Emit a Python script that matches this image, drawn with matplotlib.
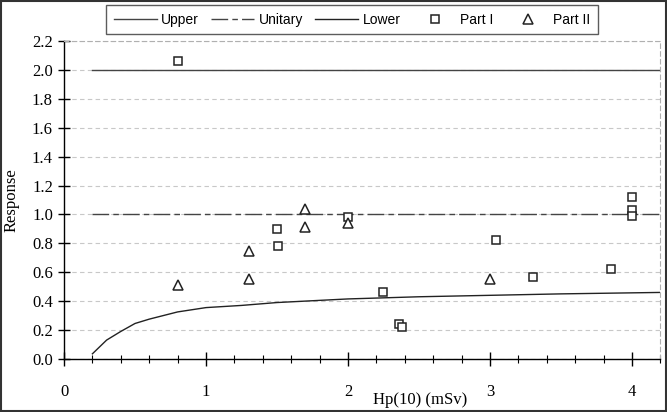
import numpy as np
import matplotlib.pyplot as plt
from matplotlib.ticker import MultipleLocator

# reference lines
limit_x = [0.2, 4.2]
upper_y = [2.0, 2.0]
unitary_y = [1.0, 1.0]

# lower limit curve
lower_x = [0.2, 0.3, 0.4, 0.5, 0.6, 0.8, 1.0, 1.25, 1.5, 2.0, 2.5, 3.0, 3.5, 4.2]
lower_y = [0.035, 0.13, 0.19, 0.245, 0.275, 0.325, 0.355, 0.37, 0.39, 0.415, 0.43, 0.44, 0.45, 0.46]

# Part I (squares)
p1_x = [0.8, 1.5, 1.51, 2.0, 2.25, 2.36, 2.38, 3.04, 3.30, 3.85, 4.0, 4.0, 4.0]
p1_y = [2.06, 0.90, 0.78, 0.98, 0.46, 0.24, 0.22, 0.82, 0.57, 0.62, 1.12, 1.03, 0.99]

# Part II (triangles)
p2_x = [0.8, 1.3, 1.3, 1.7, 1.7, 2.0, 3.0]
p2_y = [0.51, 0.75, 0.55, 1.04, 0.91, 0.94, 0.55]

serif = 'Liberation Serif'
sans = 'Liberation Sans'

fig = plt.figure(figsize=(6.67, 4.12), dpi=100)
ax = fig.add_axes([0.096, 0.129, 0.894, 0.771])

lc = '#444444'
ax.plot(limit_x, upper_y, '-', color=lc, lw=1.0, label='Upper')
ax.plot(limit_x, unitary_y, color=lc, lw=1.0, dashes=(12, 3, 4, 3), label='Unitary')
ax.plot(lower_x, lower_y, '-', color='#222222', lw=1.0, label='Lower')
ax.plot(p1_x, p1_y, 's', ms=6, mfc='white', mec='#222222', mew=1.1, ls='none', label='Part I')
ax.plot(p2_x, p2_y, '^', ms=6.5, mfc='white', mec='#222222', mew=1.1, ls='none', label='Part II')

ax.set_xlim(0, 4.2)
ax.set_ylim(0, 2.2)
ax.xaxis.set_major_locator(MultipleLocator(1))
ax.xaxis.set_minor_locator(MultipleLocator(0.2))
ax.yaxis.set_major_locator(MultipleLocator(0.2))
ax.yaxis.set_major_formatter(plt.FormatStrFormatter('%.1f'))

ax.grid(axis='y', color='#c8c8c8', ls=(0, (4, 3)), lw=0.8)
ax.set_axisbelow(True)

for s in ['top', 'right']:
    ax.spines[s].set_color('#b0b0b0')
    ax.spines[s].set_linestyle((0, (4, 3)))
    ax.spines[s].set_linewidth(0.8)
for s in ['left', 'bottom']:
    ax.spines[s].set_color('black')
    ax.spines[s].set_linewidth(1.0)

ax.tick_params(axis='y', which='major', direction='inout', length=8, width=1, pad=4, labelsize=12)
ax.tick_params(axis='x', which='major', direction='inout', length=10, width=1, pad=13, labelsize=12)
ax.tick_params(axis='x', which='minor', direction='inout', length=6, width=0.8)
for lab in ax.get_xticklabels() + ax.get_yticklabels():
    lab.set_fontfamily(serif)

ax.set_ylabel('Response', fontfamily=serif, fontsize=12, labelpad=9)
ax.set_xlabel('Hp(10) (mSv)', fontfamily=serif, fontsize=12)
ax.xaxis.set_label_coords(0.597, -0.105)

leg = fig.legend(loc='upper center', bbox_to_anchor=(0.528, 0.988), ncol=5,
                 prop={'family': sans, 'size': 10}, frameon=True, fancybox=False,
                 edgecolor='#333333', handlelength=3.1, columnspacing=0.9,
                 handletextpad=0.3, borderpad=0.55, borderaxespad=0)
leg.get_frame().set_linewidth(1.0)

# figure border
fig.patches.append(plt.Rectangle((0.002, 0.002), 0.996, 0.996, transform=fig.transFigure,
                                 fill=False, edgecolor='#333333', lw=1.5))

fig.savefig('out.png', dpi=100)
